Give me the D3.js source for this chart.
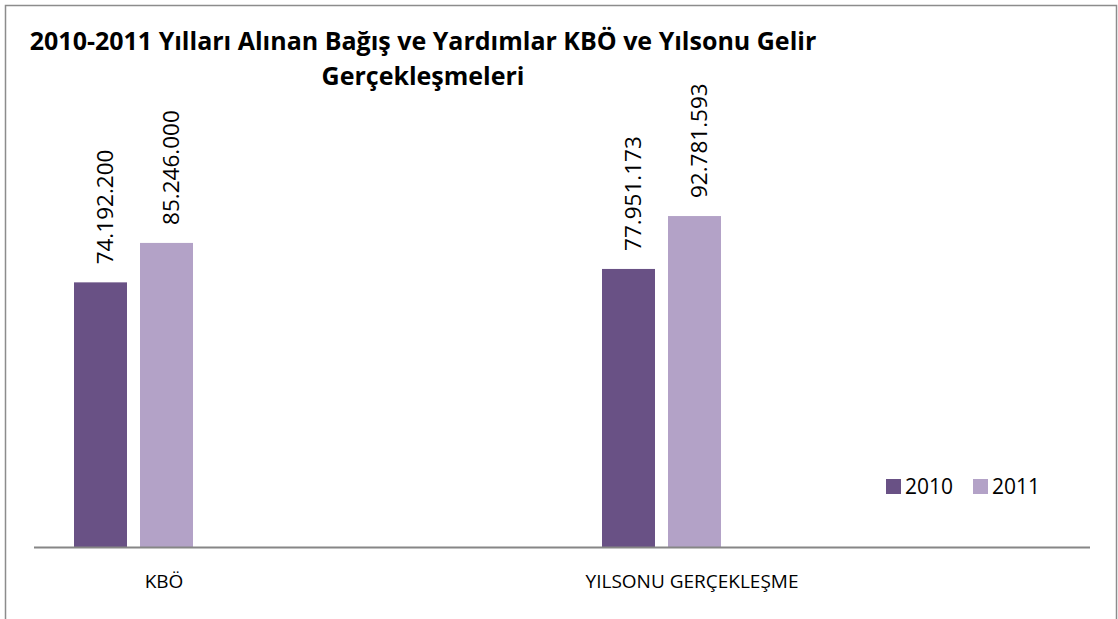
<!DOCTYPE html>
<html>
<head>
<meta charset="utf-8">
<script src="https://cdn.jsdelivr.net/npm/d3@7"></script>
<style>
  html, body { margin: 0; padding: 0; background: #fff; }
  svg { display: block; font-family: "Open Sans", "Noto Sans", sans-serif; }
</style>
</head>
<body>
<div id="chart"></div>
<script>
  const WIDTH = 1118;
  const HEIGHT = 619;

  // data
  const categories = ["KBÖ", "YILSONU GERÇEKLEŞME"];
  const seriesNames = ["2010", "2011"];
  const values2010 = [74192200, 77951173];
  const values2011 = [85246000, 92781593];
  const titleLines = ["2010-2011 Yılları Alınan Bağış ve Yardımlar KBÖ ve Yılsonu Gelir", "Gerçekleşmeleri"];

  const colors = ["#695185", "#b3a2c7"];
  const seriesValues = [values2010, values2011];

  const svg = d3.select("#chart").append("svg")
    .attr("width", WIDTH)
    .attr("height", HEIGHT);

  // outer frame
  svg.append("rect")
    .attr("x", 5.5).attr("y", 5.5)
    .attr("width", 1111).attr("height", 640)
    .attr("fill", "none")
    .attr("stroke", "#8c8c8c")
    .attr("stroke-width", 1.5);

  // title
  svg.append("text")
    .attr("text-anchor", "middle")
    .attr("font-weight", "bold")
    .attr("font-size", 25)
    .attr("fill", "#000")
    .selectAll("tspan")
    .data(titleLines)
    .join("tspan")
    .attr("x", 423)
    .attr("y", (d, i) => 50 + i * 35)
    .text(d => d);

  const baseY = 547;
  const y = d3.scaleLinear().domain([0, 100000000]).range([baseY, 190.3]);

  const x = d3.scaleBand().domain(categories).range([34, 1090]);
  const xs = d3.scaleBand().domain(seriesNames).range([0, 119]).paddingInner(13 / 66);
  const groupOffset = 40;

  const rows = categories.map((c, i) => ({
    cat: c,
    vals: seriesNames.map((s, j) => ({ cat: c, s, v: seriesValues[j][i], color: colors[j] }))
  }));

  const groups = svg.selectAll("g.cat")
    .data(rows)
    .join("g")
    .attr("class", "cat")
    .attr("transform", d => `translate(${x(d.cat) + groupOffset},0)`);

  groups.selectAll("rect")
    .data(d => d.vals)
    .join("rect")
    .attr("x", d => xs(d.s))
    .attr("y", d => y(d.v))
    .attr("width", xs.bandwidth())
    .attr("height", d => baseY - y(d.v))
    .attr("fill", d => d.color);

  const fmt = d3.formatLocale({ decimal: ",", thousands: ".", grouping: [3], currency: ["", ""] }).format(",d");

  groups.selectAll("text.val")
    .data(d => d.vals)
    .join("text")
    .attr("class", "val")
    .attr("transform", d => `translate(${xs(d.s) + xs.bandwidth() / 2 + 12},${y(d.v) - 18}) rotate(-90)`)
    .attr("font-size", 22.5)
    .attr("fill", "#000")
    .text(d => fmt(d.v));

  // axis line
  svg.append("line")
    .attr("x1", 34).attr("x2", 1090)
    .attr("y1", baseY + 0.5).attr("y2", baseY + 0.5)
    .attr("stroke", "#868686")
    .attr("stroke-width", 2);

  // category labels
  svg.selectAll("text.cat")
    .data(categories)
    .join("text")
    .attr("class", "cat")
    .attr("x", d => x(d) + 130)
    .attr("y", 588)
    .attr("text-anchor", "middle")
    .attr("font-size", 19)
    .attr("fill", "#000")
    .text(d => d);

  // legend
  const legend = svg.append("g").attr("transform", "translate(886,479)");
  const lx = [0, 87];
  const items = legend.selectAll("g")
    .data(seriesNames)
    .join("g")
    .attr("transform", (d, i) => `translate(${lx[i]},0)`);
  items.append("rect")
    .attr("width", 15).attr("height", 15)
    .attr("fill", (d, i) => colors[i]);
  items.append("text")
    .attr("x", 19).attr("y", 15)
    .attr("font-size", 21)
    .attr("fill", "#000")
    .text(d => d);
</script>
</body>
</html>
